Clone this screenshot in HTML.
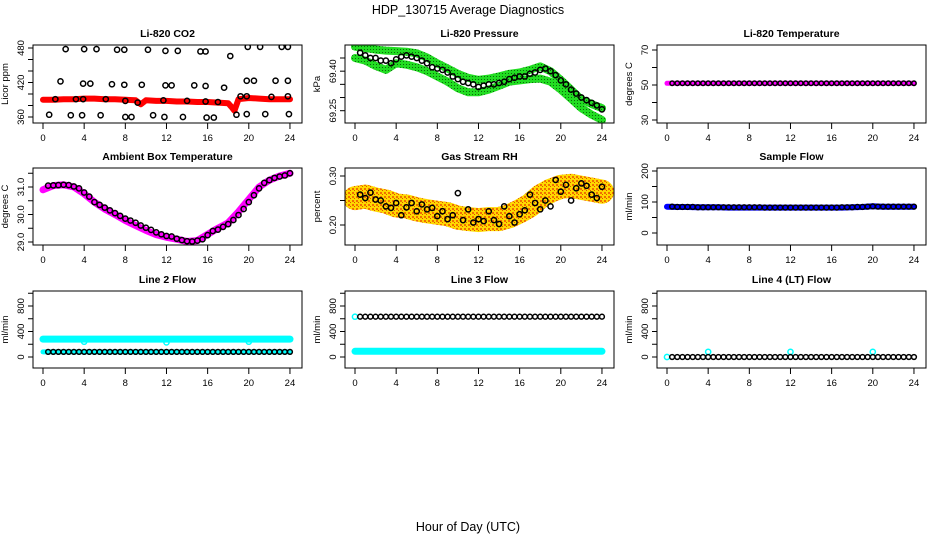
<!DOCTYPE html>
<html><head><meta charset="utf-8">
<style>
html,body{margin:0;padding:0;background:#fff;}
svg{display:block;font-family:"Liberation Sans",Arial,sans-serif;}
.tk{font-size:9.5px;fill:#000;}
.pt{font-size:10.5px;font-weight:bold;fill:#000;}
.yt{font-size:9.5px;fill:#000;}
</style></head>
<body>
<svg id="chart" width="936" height="540" viewBox="0 0 936 540">
<defs>
<pattern id="rhpat" width="4" height="4" patternUnits="userSpaceOnUse">
<rect width="4" height="4" fill="#ffd800"/><rect x="0" y="0" width="2" height="2" fill="#f07000"/><rect x="2" y="2" width="1" height="1" fill="#e05000"/>
</pattern>
<pattern id="grpat" width="3" height="3" patternUnits="userSpaceOnUse">
<rect width="3" height="3" fill="#22dd22"/><rect x="1" y="1" width="1" height="1" fill="#0a6a0a"/>
</pattern>
</defs>
<text x="468" y="14" text-anchor="middle" font-size="12.5">HDP_130715  Average Diagnostics</text>
<text x="468" y="531" text-anchor="middle" font-size="12.5">Hour of Day (UTC)</text>
</svg>
<script>
// ---- shared data ----
const HOURS = [0.5,1,1.5,2,2.5,3,3.5,4,4.5,5,5.5,6,6.5,7,7.5,8,8.5,9,9.5,10,10.5,11,11.5,12,12.5,13,13.5,14,14.5,15,15.5,16,16.5,17,17.5,18,18.5,19,19.5,20,20.5,21,21.5,22,22.5,23,23.5,24];
const BAND_HOURS = [0,1,2,3,4,5,6,7,8,9,10,11,12,13,14,15,16,17,18,19,20,21,22,23,24];
const XTICKS = [0,4,8,12,16,20,24];

// CO2
const co2BandHours = [0,1,2,3,4,5,6,7,8,9,9.5,10,11,12,13,14,15,16,17,18,18.3,18.6,19,20,21,22,23,24];
const co2Band = [390,390,391,391,392,392,391,391,390,389,382,389,388,388,387,387,386,386,385,384,378,371,391,393,392,391,391,391];
const co2PtHours = [2.2,4.0,5.2,7.2,7.9,10.2,11.9,13.1,15.3,15.8,18.2,19.9,21.1,23.2,23.8,
 1.7,3.9,4.6,6.7,7.9,9.6,11.9,12.5,14.7,15.8,17.6,19.8,20.5,22.6,23.8,
 0.6,2.7,3.8,5.6,8.0,8.6,10.7,11.8,13.6,15.9,16.6,18.8,19.8,21.6,23.9,
 1.2,3.2,3.9,6.1,8.0,9.2,11.7,14.0,15.8,17.0,19.2,19.8,22.2,23.8];
const co2Pts = [478,478,478,477,477,477,475,475,474,474,466,482,482,482,482,
 422,418,418,417,416,416,415,415,415,414,411,423,423,423,423,
 364,363,363,363,360,360,363,360,360,359,359,364,365,365,365,
 391,391,391,391,388,385,389,388,387,386,396,396,395,396];

// Pressure
const presA = [69.493,69.488,69.482,69.478,69.476,69.474,69.468,69.452,69.430,69.41,69.39,69.375,69.367,69.372,69.38,69.39,69.395,69.405,69.418,69.4,69.367,69.33,69.292,69.275,69.26];
const presB = [69.45,69.44,69.42,69.405,69.43,69.425,69.415,69.40,69.38,69.36,69.335,69.32,69.32,69.33,69.345,69.36,69.365,69.37,69.372,69.36,69.33,69.295,69.26,69.235,69.215];
const presPts = [69.47,69.46,69.45,69.45,69.44,69.44,69.43,69.445,69.455,69.46,69.455,69.45,69.44,69.43,69.415,69.41,69.405,69.395,69.38,69.37,69.36,69.355,69.35,69.34,69.345,69.35,69.35,69.355,69.36,69.37,69.375,69.38,69.38,69.39,69.395,69.405,69.41,69.40,69.385,69.365,69.35,69.33,69.315,69.3,69.29,69.28,69.27,69.255];

// Li-820 temperature
const temp820 = [51,51,51,51,51,51,51,51,51,51,51,51,51,51,51,51,51,51,51,51,51,51,51,51,51,51,51,51,51,51,51,51,51,51,51,51,51,51,51,51,51,51,51,51,51,51,51,51];

// Ambient box temperature
const ambBand = [30.9,31.05,31.08,31.0,30.75,30.45,30.2,30.0,29.78,29.6,29.42,29.27,29.17,29.1,29.02,29.05,29.28,29.5,29.7,30.1,30.55,31.0,31.25,31.4,31.5];
const ambPts = [31.05,31.06,31.07,31.08,31.07,31.02,30.95,30.8,30.65,30.45,30.35,30.25,30.15,30.05,29.95,29.85,29.78,29.7,29.6,29.52,29.44,29.35,29.28,29.22,29.2,29.12,29.07,29.03,29.02,29.05,29.1,29.25,29.4,29.45,29.55,29.65,29.8,29.98,30.2,30.45,30.7,30.95,31.15,31.25,31.33,31.38,31.42,31.5];

// Gas stream RH
const rhBand = [0.255,0.258,0.252,0.248,0.240,0.238,0.232,0.228,0.225,0.222,0.215,0.212,0.210,0.212,0.212,0.218,0.228,0.24,0.258,0.27,0.278,0.28,0.276,0.272,0.268];
const rhPts = [0.262,0.255,0.266,0.252,0.25,0.238,0.235,0.245,0.22,0.236,0.245,0.228,0.242,0.232,0.235,0.218,0.228,0.212,0.22,0.265,0.21,0.232,0.205,0.212,0.208,0.228,0.21,0.202,0.238,0.218,0.205,0.222,0.23,0.262,0.245,0.232,0.25,0.238,0.292,0.268,0.282,0.25,0.275,0.285,0.28,0.262,0.255,0.278];

// Sample flow
const sampleBand = [85,84,84,83,83,83,82,82,82,82,82,82,82,82,82,82,82,82,83,84,86,85,85,85,85];
const samplePts = [85,84,84,84,84,83,83,83,83,83,83,83,83,83,83,83,83,83,82,82,82,82,82,82,82,82,82,82,82,82,82,82,82,83,83,83,84,84,85,86,85,85,85,85,85,85,85,85];

// Line flows
const l2Cyan = [280,280,280,280,280,280,280,280,280,280,280,280,280,280,280,280,280,280,280,280,280,280,280,280,280];
const l2Black = [80,80,80,80,80,80,80,80,80,80,80,80,80,80,80,80,80,80,80,80,80,80,80,80,80,80,80,80,80,80,80,80,80,80,80,80,80,80,80,80,80,80,80,80,80,80,80,80];
const l2DipHours = [4,12,20];
const l2Dips = [240,230,240];
const l3Black = [632,632,632,632,632,632,632,632,632,632,632,632,632,632,632,632,632,632,632,632,632,632,632,632,632,632,632,632,632,632,632,632,632,632,632,632,632,632,632,632,632,632,632,632,632,632,632,632];
const l3Cyan = [90,90,90,90,90,90,90,90,90,90,90,90,90,90,90,90,90,90,90,90,90,90,90,90,90];
const l4Black = [0,0,0,0,0,0,0,0,0,0,0,0,0,0,0,0,0,0,0,0,0,0,0,0,0,0,0,0,0,0,0,0,0,0,0,0,0,0,0,0,0,0,0,0,0,0,0,0];
const l4SpikeHours = [4,12,20];
const l4Spikes = [80,80,80];

// ---- drawing ----
const svg = document.getElementById('chart');
const NS = 'http://www.w3.org/2000/svg';
function mk(tag, attrs, parent){
  const e = document.createElementNS(NS, tag);
  for (const k in attrs) e.setAttribute(k, attrs[k]);
  (parent||svg).appendChild(e);
  return e;
}
const ROW_T = [45,168,291], ROW_B = [123,245,368], TITLE_Y = [37,160,283];

function panel(col,row,opts){
  const g = mk('g',{});
  
  
  const L = 33+312*col, R = 302+312*col, T = ROW_T[row], B = ROW_B[row];
  const x = h => 43+312*col + h*10.29;
  const [v1,p1,v2,p2] = opts.ymap;
  const y = v => p1 + (v-v1)*(p2-p1)/(v2-v1);
  const t = mk('text',{x:(L+R)/2,y:TITLE_Y[row],'text-anchor':'middle',class:'pt'},g);
  t.textContent = opts.title;
  
  
  const cid = 'clip'+col+row;
  const cp = mk('clipPath',{id:cid},g);
  mk('rect',{x:L,y:T,width:R-L,height:B-T},cp);
  const plot = mk('g',{'clip-path':'url(#'+cid+')'},g);
  opts.draw(plot,x,y);
  mk('rect',{x:L,y:T,width:R-L,height:B-T,fill:'none',stroke:'#000','stroke-width':1},g);
  const xa = mk('g',{},g);
  
  
  mk('line',{x1:x(0),x2:x(24),y1:B,y2:B,stroke:'#000'},xa);
  XTICKS.forEach(h=>{
    mk('line',{x1:x(h),x2:x(h),y1:B,y2:B+6,stroke:'#000'},xa);
    const tx = mk('text',{x:x(h),y:B+18,'text-anchor':'middle',class:'tk'},xa);
    tx.textContent = h;
  });
  const ya = mk('g',{},g);
  
  
  const yt = opts.yticks;
  mk('line',{x1:L,x2:L,y1:y(yt[0]),y2:y(yt[yt.length-1]),stroke:'#000'},ya);
  yt.forEach(v=>{ mk('line',{x1:L-5,x2:L,y1:y(v),y2:y(v),stroke:'#000'},ya); });
  opts.ylabels.forEach(v=>{
    const tx = mk('text',{x:0,y:0,'text-anchor':'middle',class:'tk',transform:`translate(${L-9},${y(v)}) rotate(-90)`},ya);
    tx.textContent = opts.fmt ? opts.fmt(v) : v;
  });
  const ytl = mk('text',{x:0,y:0,'text-anchor':'middle',class:'yt',transform:`translate(${L-25},${(T+B)/2}) rotate(-90)`},g);
  ytl.textContent = opts.ytitle;
  
  
}
function band(p,x,y,hs,vs,color,w){
  const d = hs.map((h,i)=>(i?'L':'M')+x(h).toFixed(1)+','+y(vs[i]).toFixed(1)).join(' ');
  const e = mk('path',{d:d,fill:'none',stroke:color,'stroke-width':w,'stroke-linejoin':'round','stroke-linecap':'round'},p);
  
  
}
function circles(p,x,y,hs,vs,color,r){
  hs.forEach((h,i)=>{
    const c = mk('circle',{cx:x(h),cy:y(vs[i]),r:r||2.6,fill:'none',stroke:color||'#000','stroke-width':1.5},p);
    
    
  });
}

panel(0,0,{name:'co2-panel',title:'Li-820 CO2',ytitle:'Licor ppm',ymap:[480,48,360,117],
  yticks:[360,380,400,420,440,460,480],ylabels:[360,420,480],
  draw:(p,x,y)=>{ band(p,x,y,co2BandHours,co2Band,'#ff0000',6); circles(p,x,y,co2PtHours,co2Pts); }});
panel(1,0,{name:'pressure-panel',title:'Li-820 Pressure',ytitle:'kPa',ymap:[69.45,58,69.25,110.7],
  yticks:[69.25,69.30,69.35,69.40,69.45],ylabels:[69.25,69.40],fmt:v=>v.toFixed(2),
  draw:(p,x,y)=>{ band(p,x,y,BAND_HOURS,presA,'url(#grpat)',8); band(p,x,y,BAND_HOURS,presB,'url(#grpat)',8); circles(p,x,y,HOURS,presPts); }});
panel(2,0,{name:'li820-temperature-panel',title:'Li-820 Temperature',ytitle:'degrees C',ymap:[70,50,30,120],
  yticks:[30,40,50,60,70],ylabels:[30,50,70],
  draw:(p,x,y)=>{ band(p,x,y,BAND_HOURS,BAND_HOURS.map(()=>temp820[0]),'#ff00ff',5); circles(p,x,y,HOURS,temp820,'#000',2.2); }});
panel(0,1,{name:'ambient-temperature-panel',title:'Ambient Box Temperature',ytitle:'degrees C',ymap:[31,187,29,242],
  yticks:[29,29.5,30,30.5,31,31.5],ylabels:[29,30,31],fmt:v=>v.toFixed(1),
  draw:(p,x,y)=>{ band(p,x,y,BAND_HOURS,ambBand,'#ff00ff',7); circles(p,x,y,HOURS,ambPts); }});
panel(1,1,{name:'rh-panel',title:'Gas Stream RH',ytitle:'percent',ymap:[0.30,176,0.20,225],
  yticks:[0.20,0.25,0.30],ylabels:[0.20,0.30],fmt:v=>v.toFixed(2),
  draw:(p,x,y)=>{ band(p,x,y,BAND_HOURS,rhBand,'url(#rhpat)',24); circles(p,x,y,HOURS,rhPts); }});
panel(2,1,{name:'sample-flow-panel',title:'Sample Flow',ytitle:'ml/min',ymap:[200,171,0,233],
  yticks:[0,50,100,150,200],ylabels:[0,100,200],
  draw:(p,x,y)=>{ band(p,x,y,BAND_HOURS,sampleBand,'#0000ff',6); circles(p,x,y,HOURS,samplePts,'#000',2.4); }});
const flowMap = [800,306,0,357];
panel(0,2,{name:'line2-flow-panel',title:'Line 2 Flow',ytitle:'ml/min',ymap:flowMap,
  yticks:[0,200,400,600,800,1000],ylabels:[0,400,800],
  draw:(p,x,y)=>{ band(p,x,y,BAND_HOURS,l2Cyan,'#00ffff',7); circles(p,x,y,l2DipHours,l2Dips,'#00ffff',2.6);
    band(p,x,y,BAND_HOURS,l2Black,'#00ffff',5); circles(p,x,y,HOURS,l2Black,'#000',2.4); }});
panel(1,2,{name:'line3-flow-panel',title:'Line 3 Flow',ytitle:'ml/min',ymap:flowMap,
  yticks:[0,200,400,600,800,1000],ylabels:[0,400,800],
  draw:(p,x,y)=>{ band(p,x,y,BAND_HOURS,l3Cyan,'#00ffff',7); circles(p,x,y,[0],[l3Black[0]],'#00ffff',2.6); circles(p,x,y,HOURS,l3Black,'#000',2.4); }});
panel(2,2,{name:'line4-flow-panel',title:'Line 4 (LT) Flow',ytitle:'ml/min',ymap:flowMap,
  yticks:[0,200,400,600,800,1000],ylabels:[0,400,800],
  draw:(p,x,y)=>{ circles(p,x,y,[0],[l4Black[0]],'#00ffff',2.6); circles(p,x,y,l4SpikeHours,l4Spikes,'#00ffff',2.6); circles(p,x,y,HOURS,l4Black,'#000',2.4); }});
</script>
</body></html>
